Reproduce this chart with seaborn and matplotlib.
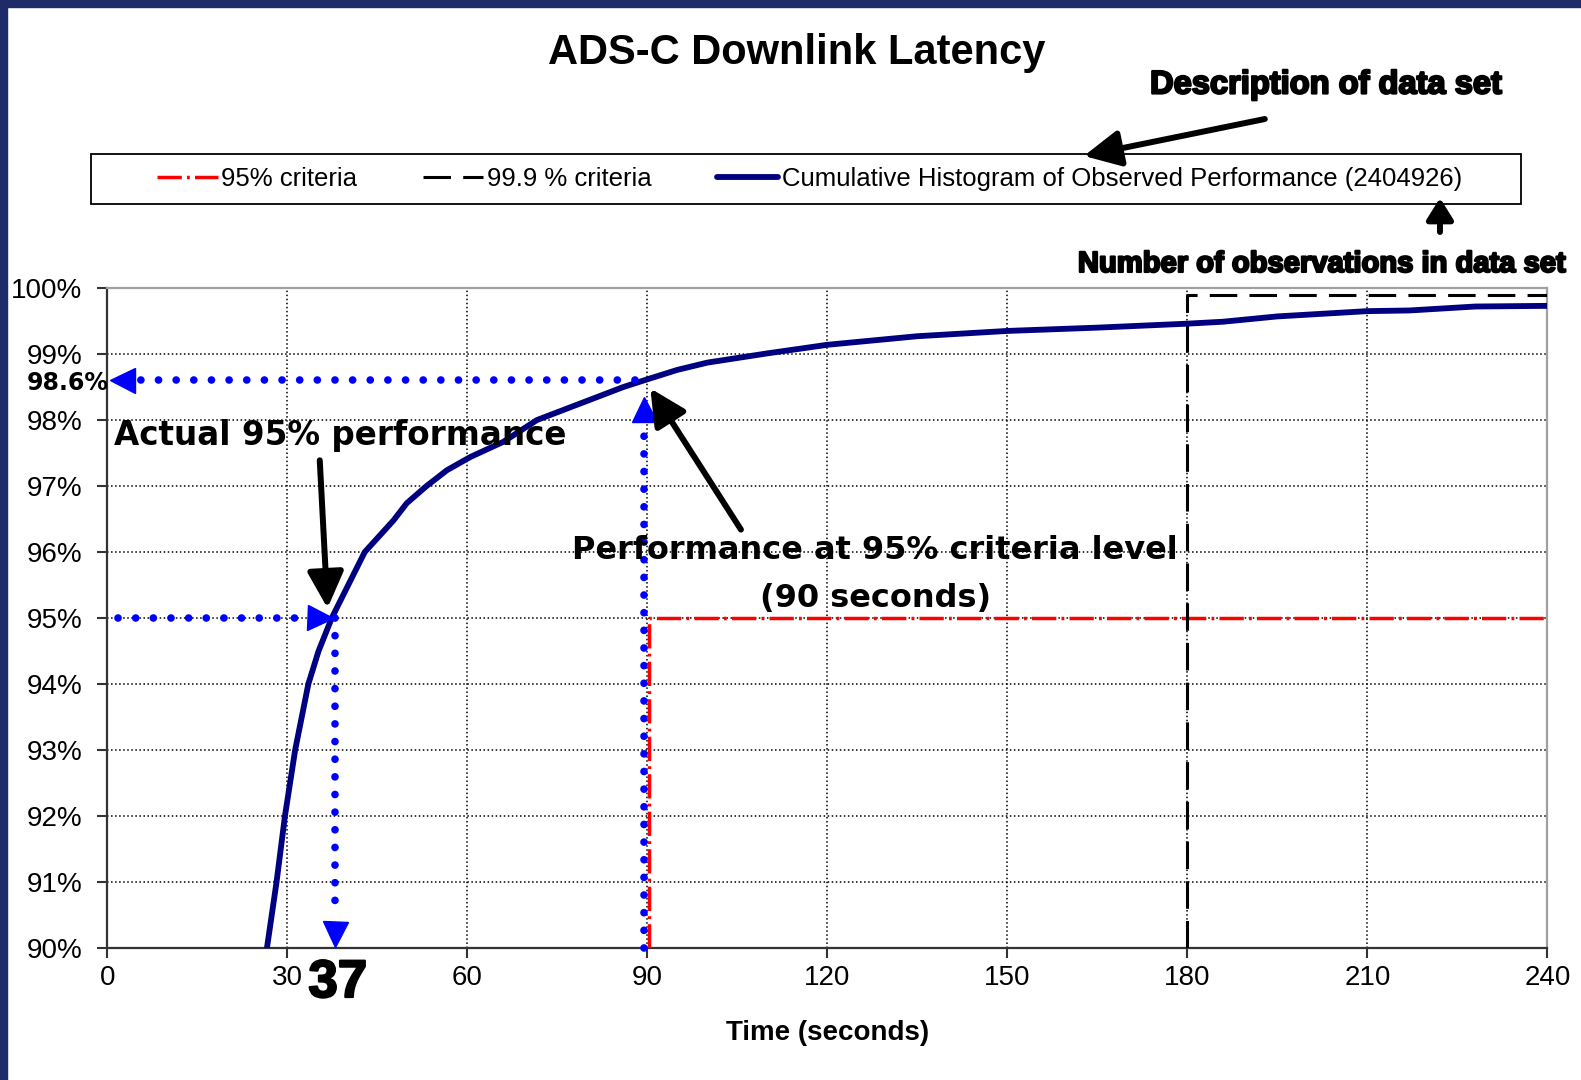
import pandas as pd
import matplotlib
matplotlib.use('Agg')
import matplotlib.pyplot as plt
import matplotlib.patheffects as pe
from matplotlib.patches import Rectangle
from matplotlib.ticker import FuncFormatter
import seaborn as sns

# --- 1. Data ---
TIME_S = [26.6, 28.2, 29.6, 31.3, 33.5, 35.2, 37.4, 39.6, 42.9, 47.7, 49.9, 53.2, 56.6,
          60.5, 66.0, 71.6, 78.8, 86.0, 90.1, 95.0, 100.0, 110.0, 120.0, 135.0, 150.0,
          165.0, 180.0, 186.0, 195.0, 210.0, 217.0, 228.0, 240.0]
CUM_PCT = [90.0, 91.0, 92.0, 93.0, 94.0, 94.5, 95.0, 95.4, 96.0, 96.48, 96.74, 97.0, 97.24,
           97.44, 97.67, 98.0, 98.25, 98.5, 98.62, 98.76, 98.87, 99.01, 99.14, 99.27, 99.35,
           99.4, 99.46, 99.49, 99.57, 99.65, 99.66, 99.72, 99.73]

CRIT95_T = [90.3, 90.3, 240]
CRIT95_PCT = [90, 95, 95]
CRIT999_T = [180, 180, 240]
CRIT999_PCT = [90, 99.9, 99.9]

X_TICKS = [0, 30, 60, 90, 120, 150, 180, 210, 240]
Y_TICKS = [90, 91, 92, 93, 94, 95, 96, 97, 98, 99, 100]

N_OBS = 2404926
LEGEND_LABELS = ['95% criteria', '99.9 % criteria',
                 f'Cumulative Histogram of Observed Performance ({N_OBS})']

ACTUAL_95_T = 38.0      # where the curve crosses 95 % (as drawn)
ACTUAL_95_LABEL = '37'
CRIT_T = 89.4           # 90 s criteria (as drawn)
PERF_AT_CRIT = 98.6

# --- 2. Style ---
sns.set_style('ticks')
plt.rcParams['font.family'] = ['Liberation Sans', 'DejaVu Sans']
plt.rcParams.update({'text.color': 'black', 'axes.labelcolor': 'black',
                     'xtick.color': 'black', 'ytick.color': 'black'})
NAVY = '#000080'
BLUE = '#0000ff'
heavy = [pe.withStroke(linewidth=1.6, foreground='black')]

fig = plt.figure(figsize=(15.81, 10.80), dpi=100)
ax = fig.add_axes([0.0679, 0.1222, 0.9108, 0.6111])

# --- 3. Lines ---
sns.lineplot(data=pd.DataFrame({'t': CRIT95_T, 'pct': CRIT95_PCT}), x='t', y='pct',
             sort=False, estimator=None, color='red', lw=2.5,
             linestyle=(0, (7, 1.5, 0.8, 1.5)), label=LEGEND_LABELS[0], ax=ax, zorder=3)
sns.lineplot(data=pd.DataFrame({'t': CRIT999_T, 'pct': CRIT999_PCT}), x='t', y='pct',
             sort=False, estimator=None, color='black', lw=2.2,
             linestyle=(0, (9, 4)), label=LEGEND_LABELS[1], ax=ax, zorder=3)
sns.lineplot(data=pd.DataFrame({'t': TIME_S, 'pct': CUM_PCT}), x='t', y='pct',
             sort=False, estimator=None, color=NAVY, lw=4.2,
             label=LEGEND_LABELS[2], ax=ax, zorder=4)

handles, labels = ax.get_legend_handles_labels()
if ax.get_legend() is not None:
    ax.get_legend().remove()

ax.set_xlim(0, 240)
ax.set_ylim(90, 100)
ax.set_xticks(X_TICKS)
ax.set_yticks(Y_TICKS)
ax.yaxis.set_major_formatter(FuncFormatter(lambda v, p: f'{v:.0f}%'))
ax.tick_params(axis='both', labelsize=20, length=7, width=1.5, color='#333333')
ax.tick_params(axis='x', pad=5)
ax.tick_params(axis='y', pad=11)
ax.grid(True, color='black', linestyle=':', linewidth=1.1)
ax.set_axisbelow(True)
ax.set_xlabel('Time (seconds)', fontsize=20, fontweight='bold', labelpad=21)
ax.set_ylabel('')
for side in ['left', 'bottom']:
    ax.spines[side].set_color('#333333')
    ax.spines[side].set_linewidth(1.6)
for side in ['top', 'right']:
    ax.spines[side].set_visible(True)
    ax.spines[side].set_color('#a0a0a0')
    ax.spines[side].set_linewidth(1.6)

# --- 4. Blue dotted guide lines ---
dot = dict(color=BLUE, lw=5.5, linestyle=(0, (0.01, 2.3)), dash_capstyle='round',
           zorder=5, clip_on=False)
ax.plot([CRIT_T - 1.5, 4.3], [PERF_AT_CRIT, PERF_AT_CRIT], **dot)
ax.plot([CRIT_T, CRIT_T], [90, 97.9], **dot)
ax.plot([1.8, 32.5], [95, 95], **dot)
ax.plot([ACTUAL_95_T, ACTUAL_95_T], [95, 90.7], **dot)
tri = dict(color=BLUE, ms=18, zorder=6, clip_on=False, linestyle='none')
ax.plot([2.4], [PERF_AT_CRIT], marker='<', **tri)
ax.plot([CRIT_T], [98.17], marker='^', **tri)
ax.plot([35.4], [95], marker='>', **tri)
ax.plot([ACTUAL_95_T], [90.22], marker='v', **tri)

# --- 5. Annotations ---
arrow = dict(arrowstyle='-|>,head_width=0.5,head_length=1.0', lw=4.3, color='black',
             shrinkA=0, shrinkB=0, mutation_scale=22)
ax.text(1.1, 97.76, 'Actual 95% performance', fontsize=23.5, fontweight='bold',
        family='DejaVu Sans', va='center', ha='left', zorder=7)
ax.annotate('', xy=(36.7, 95.15), xytext=(35.4, 97.39), arrowprops=arrow, zorder=7)

ax.text(128.0, 96.02, 'Performance at 95% criteria level', fontsize=23, fontweight='bold',
        family='DejaVu Sans', va='center', ha='center', zorder=7)
ax.text(128.0, 95.30, '(90 seconds)', fontsize=23, fontweight='bold',
        family='DejaVu Sans', va='center', ha='center', zorder=7)
ax.annotate('', xy=(90.5, 98.48), xytext=(105.6, 96.34), arrowprops=arrow, zorder=7)

ax.text(0.3, 98.56, f'{PERF_AT_CRIT}%', fontsize=17, fontweight='bold',
        family='DejaVu Sans', va='center', ha='right', clip_on=False, zorder=7)
ax.text(38.4, 89.47, ACTUAL_95_LABEL, fontsize=38, fontweight='bold',
        va='center', ha='center', clip_on=False, path_effects=heavy)

fig.text(0.504, 0.951, 'ADS-C Downlink Latency', fontsize=30, fontweight='bold',
         ha='center', va='center')
fig.text(0.8387, 0.9213, 'Description of data set', fontsize=23.5, fontweight='bold',
         ha='center', va='center', path_effects=heavy)
fig.text(0.836, 0.7556, 'Number of observations in data set', fontsize=21,
         fontweight='bold', ha='center', va='center', path_effects=heavy)
ax.annotate('', xy=(0.6856, 0.8556), xycoords='figure fraction', xytext=(0.800, 0.8898),
            textcoords='figure fraction', arrowprops=arrow, annotation_clip=False)
ax.annotate('', xy=(0.9108, 0.8167), xycoords='figure fraction', xytext=(0.9108, 0.7852),
            textcoords='figure fraction', annotation_clip=False,
            arrowprops=dict(arrowstyle='-|>,head_width=0.5,head_length=0.8', lw=4.3,
                            color='black', shrinkA=0, shrinkB=0, mutation_scale=16))

# --- 6. Legend box and frame ---
fig.legend(handles, labels, loc='center', bbox_to_anchor=(0.512, 0.8343), ncol=3,
           frameon=False, fontsize=18.5, handlelength=2.35, handletextpad=0.15,
           columnspacing=2.55)
fig.patches.append(Rectangle((0.0576, 0.8111), 0.9045, 0.0463, transform=fig.transFigure,
                             fill=False, ec='black', lw=1.3))
fig.patches.append(Rectangle((0, 1 - 7 / 1080), 1, 7 / 1080, transform=fig.transFigure,
                             color='#1e2b68'))
fig.patches.append(Rectangle((0, 0), 7 / 1581, 1, transform=fig.transFigure,
                             color='#1e2b68'))

fig.savefig('out.png', dpi=100)
